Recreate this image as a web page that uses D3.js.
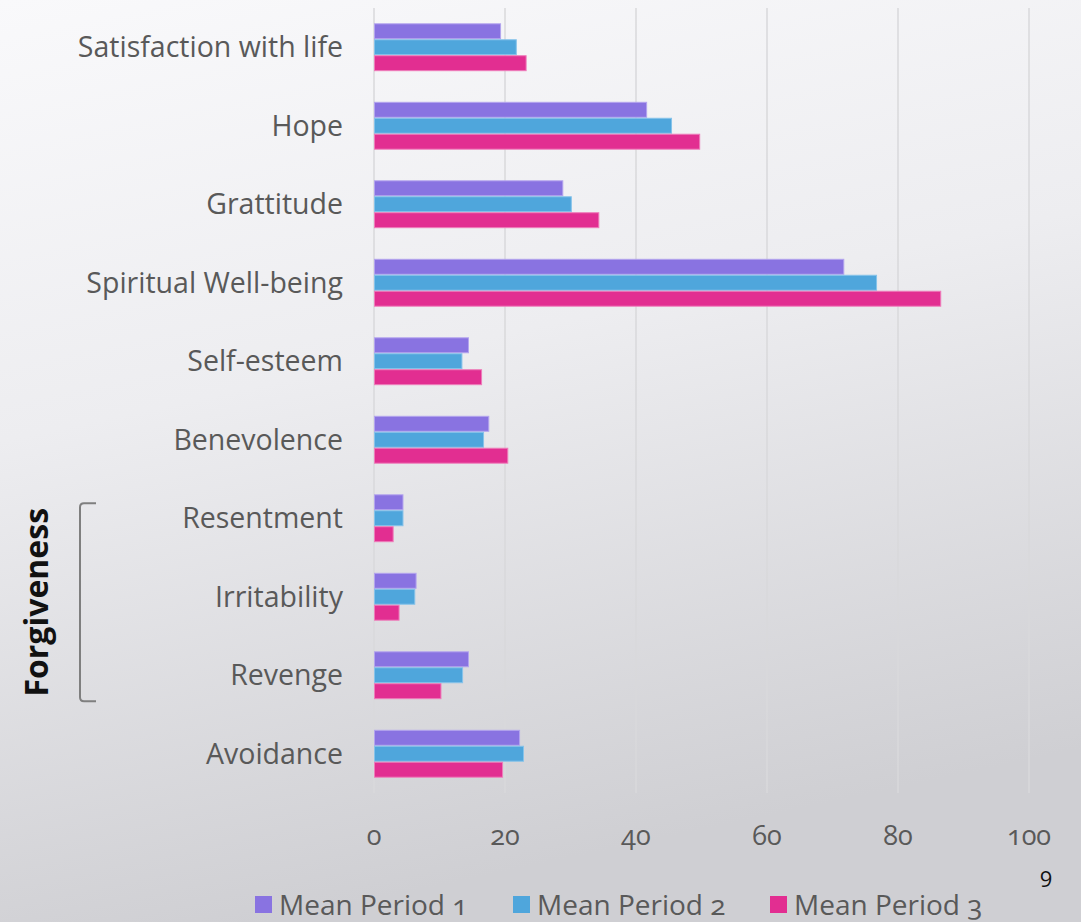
<!DOCTYPE html>
<html>
<head>
<meta charset="utf-8">
<script src="https://cdn.jsdelivr.net/npm/d3@7"></script>
<style>
  html, body { margin: 0; padding: 0; overflow: hidden; }
  text { font-family: "Open Sans", "Noto Sans", sans-serif; }
</style>
</head>
<body>
<script>
const WIDTH = 1081;
const HEIGHT = 922;

const categories = [
  "Satisfaction with life", "Hope", "Grattitude", "Spiritual Well-being",
  "Self-esteem", "Benevolence", "Resentment", "Irritability", "Revenge", "Avoidance"
];
const seriesNames = ["Mean Period 1", "Mean Period 2", "Mean Period 3"];
const period1 = [19.4, 41.7, 28.9, 71.8, 14.5, 17.6, 4.5, 6.5, 14.5, 22.3];
const period2 = [21.8, 45.5, 30.2, 76.8, 13.5, 16.8, 4.5, 6.3, 13.6, 22.9];
const period3 = [23.3, 49.8, 34.4, 86.6, 16.5, 20.5, 3.0, 3.9, 10.3, 19.7];
const xTicks = [0, 20, 40, 60, 80, 100];
const colors = ["#8973e1", "#4fa6dc", "#e22e91"];
const borders = ["#b3a4ee", "#86c3ea", "#ee7cba"];

const svg = d3.select("body").append("svg")
  .attr("width", WIDTH)
  .attr("height", HEIGHT);

const defs = svg.append("defs");
const grad = defs.append("linearGradient")
  .attr("id", "bg")
  .attr("x1", 0).attr("y1", 0).attr("x2", 0.25).attr("y2", 1);
grad.append("stop").attr("offset", "0%").attr("stop-color", "#f9f9fb");
grad.append("stop").attr("offset", "45%").attr("stop-color", "#ededf0");
grad.append("stop").attr("offset", "100%").attr("stop-color", "#cfcfd3");

svg.append("rect").attr("width", WIDTH).attr("height", HEIGHT).attr("fill", "url(#bg)");

const x = d3.scaleLinear().domain([0, 100]).range([374, 1029]);
const y = d3.scaleBand().domain(categories).range([8, 793]).paddingInner(0.39).paddingOuter(0.195);
const ySub = d3.scaleBand().domain(seriesNames).range([0, y.bandwidth()]);
const mid = (d) => y(d) + y.bandwidth() / 2;

// grid
svg.append("g")
  .selectAll("line")
  .data(xTicks)
  .join("line")
  .attr("x1", (d) => x(d)).attr("x2", (d) => x(d))
  .attr("y1", 8).attr("y2", 793)
  .attr("stroke", "#d9d9db")
  .attr("stroke-width", 1.5);

// bars
const allSeries = [period1, period2, period3];
const groups = svg.append("g")
  .selectAll("g")
  .data(categories)
  .join("g")
  .attr("transform", (d) => `translate(0,${y(d)})`);

groups.selectAll("rect")
  .data((d, i) => allSeries.map((s, k) => ({ k, name: seriesNames[k], value: s[i] })))
  .join("rect")
  .attr("x", x(0) + 0.5)
  .attr("y", (d) => ySub(d.name) + 0.5)
  .attr("width", (d) => x(d.value) - x(0) - 1)
  .attr("height", ySub.bandwidth() - 1)
  .attr("fill", (d) => colors[d.k])
  .attr("stroke", (d) => borders[d.k])
  .attr("stroke-width", 1);

// category labels
svg.append("g")
  .selectAll("text")
  .data(categories)
  .join("text")
  .attr("x", 343)
  .attr("y", mid)
  .attr("dy", "0.35em")
  .attr("text-anchor", "end")
  .attr("font-size", 28.5)
  .attr("fill", "#595959")
  .text((d) => d);

// x axis labels
svg.append("g")
  .selectAll("text")
  .data(xTicks)
  .join("text")
  .attr("x", (d) => x(d))
  .attr("y", 836)
  .attr("dy", "0.35em")
  .attr("text-anchor", "middle")
  .attr("font-size", 27)
  .attr("fill", "#595959")
  .style("font-variant-numeric", "oldstyle-nums")
  .text((d) => d);

// forgiveness bracket
const bracketTop = mid("Resentment") - 15;
const bracketBottom = mid("Revenge") + 26;
svg.append("path")
  .attr("d", `M96,${bracketTop} L84,${bracketTop} Q80,${bracketTop} 80,${bracketTop + 4} L80,${bracketBottom - 4} Q80,${bracketBottom} 84,${bracketBottom} L96,${bracketBottom}`)
  .attr("fill", "none")
  .attr("stroke", "#7f7f7f")
  .attr("stroke-width", 2);

svg.append("text")
  .attr("transform", `translate(37,${(bracketTop + bracketBottom) / 2}) rotate(-90)`)
  .attr("dy", "0.35em")
  .attr("text-anchor", "middle")
  .attr("font-size", 32)
  .attr("font-weight", "bold")
  .attr("fill", "#111")
  .text("Forgiveness");

// legend
const legendX = [255, 513, 770];
const legend = svg.append("g")
  .selectAll("g")
  .data(seriesNames)
  .join("g")
  .attr("transform", (d, i) => `translate(${legendX[i]},896)`);
legend.append("rect")
  .attr("width", 17).attr("height", 17)
  .attr("fill", (d, i) => colors[i]);
legend.append("text")
  .attr("x", 24)
  .attr("y", 9)
  .attr("dy", "0.35em")
  .attr("font-size", 28)
  .attr("fill", "#595959")
  .style("font-variant-numeric", "oldstyle-nums")
  .text((d) => d);

// slide number
svg.append("text")
  .attr("x", 1046)
  .attr("y", 879)
  .attr("dy", "0.35em")
  .attr("text-anchor", "middle")
  .attr("font-size", 22)
  .attr("fill", "#111")
  .text("9");
</script>
</body>
</html>
